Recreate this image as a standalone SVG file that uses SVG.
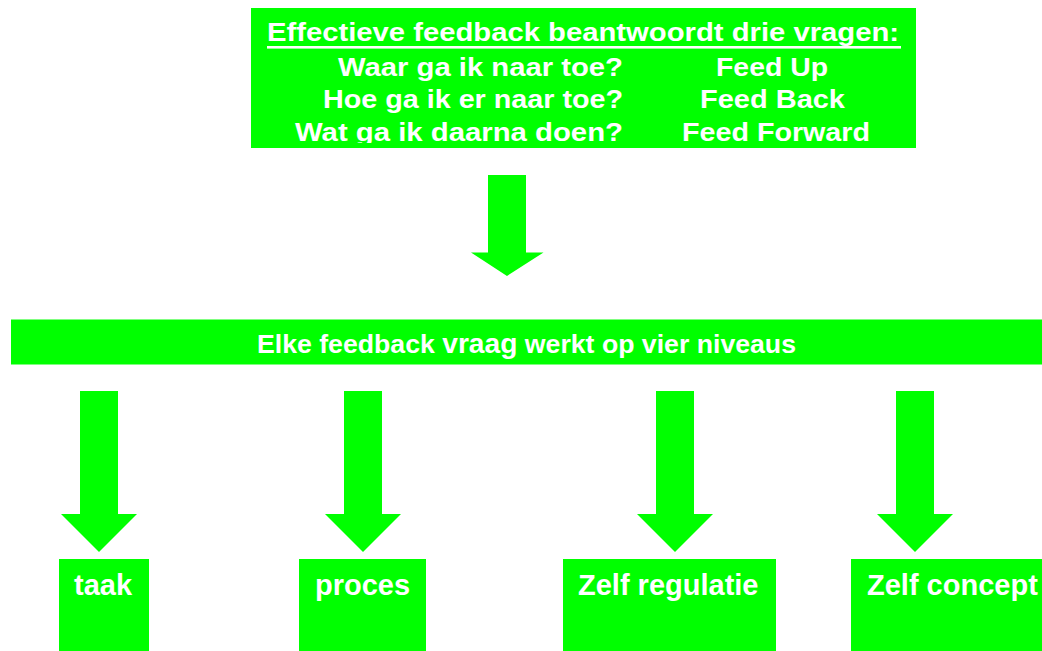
<svg xmlns="http://www.w3.org/2000/svg" width="1042" height="651" viewBox="0 0 1042 651">
  <style>
    .fill { fill: #00ff00; }
    .txt { fill: #ffffff; font-family: "Liberation Sans", Arial, sans-serif; font-weight: bold; }
    .top { font-size: 26.5px; }
    .mid { font-size: 26px; }
    .lvl { font-size: 29px; }
  </style>
  <defs>
    <!-- last line of the question block is cut off by the box edge -->
    <clipPath id="topClip">
      <rect x="251" y="8" width="665" height="135"/>
    </clipPath>
    <!-- big downward block arrow, tip at origin -->
    <path id="bigArrow" d="M-19,-101 H19 V-23.5 H36.5 L0,0 L-36,-23.5 H-19 Z"/>
    <!-- level arrow, tip at origin -->
    <path id="lvlArrow" d="M-19,-161 H19 V-38 H38 L0,0 L-38,-38 H-19 Z"/>
  </defs>

  <!-- Question block -->
  <g id="questions">
    <rect class="fill" x="251" y="8" width="665" height="140"/>
    <text class="txt top" x="267" y="41" textLength="632" lengthAdjust="spacingAndGlyphs">Effectieve feedback beantwoordt drie vragen:</text>
    <rect x="267" y="46" width="634" height="2.6" fill="#ffffff"/>
    <g clip-path="url(#topClip)">
      <text class="txt top" x="338" y="76" textLength="285" lengthAdjust="spacingAndGlyphs">Waar ga ik naar toe?</text>
      <text class="txt top" x="716" y="76" textLength="112" lengthAdjust="spacingAndGlyphs">Feed Up</text>
      <text class="txt top" x="323" y="108" textLength="300" lengthAdjust="spacingAndGlyphs">Hoe ga ik er naar toe?</text>
      <text class="txt top" x="700" y="108" textLength="145" lengthAdjust="spacingAndGlyphs">Feed Back</text>
      <text class="txt top" x="295" y="141" textLength="328" lengthAdjust="spacingAndGlyphs">Wat ga ik daarna doen?</text>
      <text class="txt top" x="682" y="141" textLength="188" lengthAdjust="spacingAndGlyphs">Feed Forward</text>
    </g>
  </g>

  <!-- Levels bar -->
  <g id="levels">
    <rect class="fill" x="11" y="319.5" width="1031" height="45"/>
    <text class="txt mid" x="257" y="353" textLength="539" lengthAdjust="spacingAndGlyphs">Elke feedback <tspan font-size="27.5">vraag</tspan> werkt op vier niveaus</text>
  </g>

  <!-- Level nodes -->
  <g id="taak">
    <rect class="fill" x="59" y="559" width="90" height="92"/>
    <text class="txt lvl" x="74" y="595">taak</text>
  </g>
  <g id="proces">
    <rect class="fill" x="299" y="559" width="127" height="92"/>
    <text class="txt lvl" x="315" y="595">proces</text>
  </g>
  <g id="zelf-regulatie">
    <rect class="fill" x="563" y="559" width="213" height="92"/>
    <text class="txt lvl" x="578" y="595">Zelf regulatie</text>
  </g>
  <g id="zelf-concept">
    <rect class="fill" x="851" y="559" width="191" height="92"/>
    <text class="txt lvl" x="867" y="595">Zelf concept</text>
  </g>

  <!-- Connectors -->
  <g id="connectors" class="fill">
    <use href="#bigArrow" x="507" y="276"/>
    <use href="#lvlArrow" x="99" y="552"/>
    <use href="#lvlArrow" x="363" y="552"/>
    <use href="#lvlArrow" x="675" y="552"/>
    <use href="#lvlArrow" x="915" y="552"/>
  </g>
</svg>
